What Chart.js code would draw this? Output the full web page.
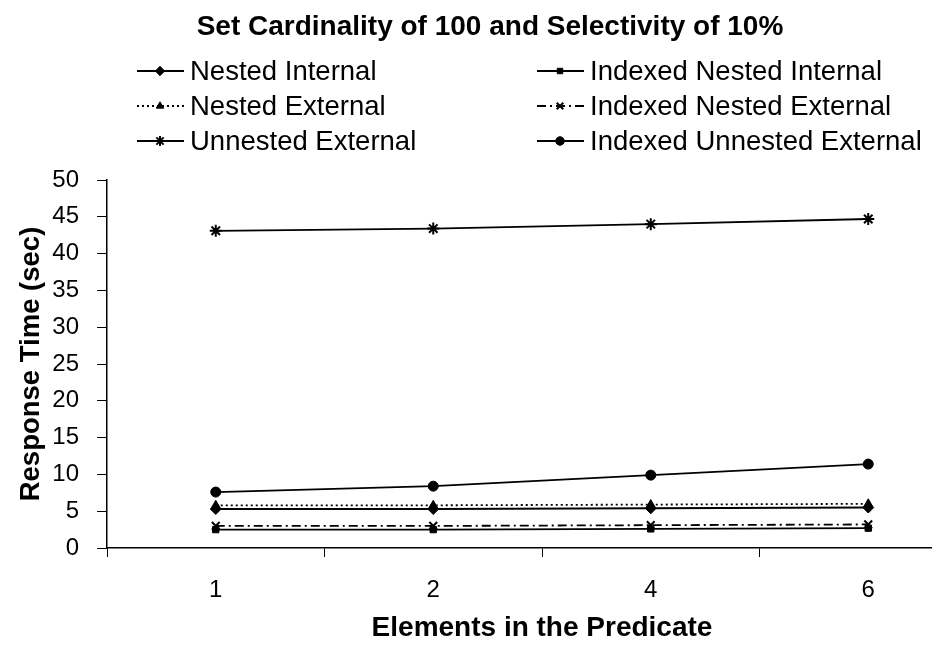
<!DOCTYPE html>
<html lang="en">
<head>
  <meta charset="UTF-8">
  <title>Set Cardinality of 100 and Selectivity of 10%</title>
  <script src="https://cdn.jsdelivr.net/npm/chart.js"></script>
  <style>
    html, body { margin: 0; padding: 0; background: #fff; overflow: hidden; }
    #wrap { position: relative; width: 985px; height: 645px; }
  </style>
</head>
<body>
  <div id="wrap"><canvas id="chart"></canvas></div>

  <script>
    const chartTitle = "Set Cardinality of 100 and Selectivity of 10%";
    const elements = ["1", "2", "4", "6"];

    const nestedInternal = [5.3, 5.3, 5.4, 5.5];
    const indexedNestedInternal = [2.5, 2.5, 2.6, 2.7];
    const nestedExternal = [5.8, 5.8, 5.9, 6.0];
    const indexedNestedExternal = [3.0, 3.0, 3.1, 3.2];
    const unnestedExternal = [43.1, 43.4, 44.0, 44.7];
    const indexedUnnestedExternal = [7.6, 8.4, 9.9, 11.4];

    const yTicks = [0, 5, 10, 15, 20, 25, 30, 35, 40, 45, 50];

    const FONT = "'Liberation Sans', Arial, sans-serif";

    const markerSize = { rectRot: 5.5, rect: 4.5, triangle: 5, crossRot: 5.5, star: 6, circle: 5 };

    function series(label, data, style, dash) {
      const filled = style !== "crossRot" && style !== "star";
      return {
        label, data,
        borderColor: "#000",
        borderWidth: 1.8,
        borderDash: dash || [],
        pointStyle: style,
        pointRadius: markerSize[style],
        pointBorderColor: "#000",
        pointBorderWidth: filled ? 1 : 2,
        pointBackgroundColor: "#000",
        tension: 0,
        fill: false
      };
    }

    // legend laid out in two columns like the original
    const legendCols = [137, 537];
    const legendRows = [71, 106, 141];

    const twoColLegend = {
      id: "twoColLegend",
      afterDraw(chart) {
        const ctx = chart.ctx;
        ctx.save();
        ctx.fillStyle = "#000";
        ctx.textAlign = "center";
        ctx.textBaseline = "middle";
        ctx.font = "bold 28px " + FONT;
        ctx.fillText(chartTitle, 490, 27);

        ctx.font = "27.5px " + FONT;
        ctx.textAlign = "left";
        chart.data.datasets.forEach((ds, i) => {
          const x = legendCols[i % 2];
          const y = legendRows[Math.floor(i / 2)];
          ctx.strokeStyle = "#000";
          ctx.lineWidth = ds.borderWidth;
          ctx.setLineDash(ds.borderDash);
          ctx.beginPath();
          ctx.moveTo(x, y);
          ctx.lineTo(x + 47, y);
          ctx.stroke();
          ctx.setLineDash([]);
          ctx.fillStyle = "#000";
          ctx.lineWidth = ds.pointBorderWidth;
          Chart.helpers.drawPoint(ctx, {
            pointStyle: ds.pointStyle,
            radius: ds.pointRadius * 0.85,
            rotation: 0,
            borderWidth: ds.pointBorderWidth
          }, x + 23, y);
          ctx.fillText(ds.label, x + 53, y + 1);
        });
        ctx.restore();
      }
    };

    new Chart(document.getElementById("chart"), {
      type: "line",
      data: {
        labels: elements,
        datasets: [
          series("Nested Internal", nestedInternal, "rectRot"),
          series("Indexed Nested Internal", indexedNestedInternal, "rect"),
          series("Nested External", nestedExternal, "triangle", [2, 3]),
          series("Indexed Nested External", indexedNestedExternal, "crossRot", [9, 4, 2, 4]),
          series("Unnested External", unnestedExternal, "star"),
          series("Indexed Unnested External", indexedUnnestedExternal, "circle")
        ]
      },
      options: {
        responsive: true,
        maintainAspectRatio: false,
        animation: false,
        layout: { padding: { top: 180, right: 2, left: 0, bottom: 0 } },
        plugins: {
          legend: { display: false },
          title: { display: false },
          tooltip: { enabled: false }
        },
        scales: {
          x: {
            type: "category",
            offset: true,
            grid: { offset: true, drawOnChartArea: false, color: "#000", tickLength: 9 },
            border: { color: "#000", width: 1.5 },
            ticks: { color: "#000", padding: 19, font: { family: FONT, size: 24 } },
            title: {
              display: true, text: "Elements in the Predicate", color: "#000",
              font: { family: FONT, size: 28, weight: "bold" }, padding: { top: 0, bottom: 0 }
            },
            afterFit(scale) { scale.height = 97; }
          },
          y: {
            min: 0, max: 50,
            afterBuildTicks(scale) { scale.ticks = yTicks.map(v => ({ value: v })); },
            grid: { drawOnChartArea: false, color: "#000", tickLength: 10 },
            border: { color: "#000", width: 1.5 },
            ticks: { color: "#000", padding: 18, font: { family: FONT, size: 24 } },
            title: {
              display: true, text: "Response Time (sec)", color: "#000",
              font: { family: FONT, size: 27.5, weight: "bold" }, padding: { top: 15, bottom: 0 }
            },
            afterFit(scale) { scale.width = 107; }
          }
        }
      },
      plugins: [twoColLegend]
    });
  </script>
</body>
</html>
